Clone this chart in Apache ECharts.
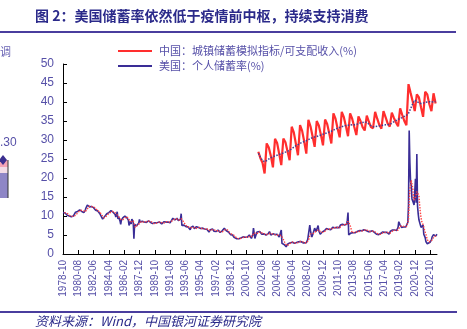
<!DOCTYPE html>
<html><head><meta charset="utf-8">
<script src="https://cdn.jsdelivr.net/npm/echarts@6/dist/echarts.min.js"></script>
<style>html,body{margin:0;padding:0;background:#fff}#c{width:467px;height:329px}</style>
</head><body><div id="c"></div>
<script>
// Monthly categories 1978-10 .. 2023-08
const categories = [];
for (let y = 1978; y <= 2023; y++) {
  for (let m = 1; m <= 12; m++) {
    if (y === 1978 && m < 10) continue;
    if (y === 2023 && m > 8) break;
    categories.push(y + '-' + String(m).padStart(2, '0'));
  }
}

// US personal saving rate (%), monthly, from 1978-10
const us1978 = [10.9, 11.0, 11.2];
const usYears = [
  [10.8,10.9,10.7,10.2,10.0,10.2,10.0,9.7,9.6,9.8,9.9,10.1],   // 1979
  [10.0,10.2,10.4,11.0,11.1,11.0,11.2,11.4,11.3,11.6,11.5,11.7], // 1980
  [11.2,11.3,11.0,10.9,11.1,11.5,12.1,12.4,12.9,12.8,12.6,12.4], // 1981
  [12.3,12.4,12.5,12.3,12.7,12.2,12.0,11.9,11.5,11.3,11.2,11.3], // 1982
  [10.9,10.8,10.6,10.4,9.9,9.5,9.2,9.4,9.6,9.9,10.1,10.2],       // 1983
  [10.6,11.0,11.1,10.9,10.8,11.0,11.4,11.2,11.3,11.0,10.7,10.9], // 1984
  [10.4,9.7,9.6,11.1,9.2,9.8,9.5,8.7,7.8,8.9,9.3,9.5],           // 1985
  [9.4,9.6,10.0,10.1,9.6,9.5,9.3,8.9,7.5,8.5,8.8,7.9],           // 1986
  [9.2,9.0,8.5,4.0,7.8,7.9,7.6,7.4,7.3,7.9,8.2,9.1],             // 1987
  [8.4,8.3,8.5,8.6,8.2,8.1,8.4,8.5,8.8,8.3,8.6,8.5],             // 1988
  [8.7,8.8,8.9,8.3,8.0,8.2,8.0,7.6,7.9,8.2,8.3,8.1],             // 1989
  [8.1,8.3,8.4,8.7,8.4,8.5,8.2,7.9,8.0,7.8,8.5,8.5],             // 1990
  [8.6,8.4,8.6,8.5,8.4,8.2,8.3,8.2,8.5,8.8,8.8,9.4],             // 1991
  [9.2,9.3,9.0,9.2,9.1,9.4,9.0,8.8,8.6,8.9,9.2,10.6],            // 1992
  [7.5,7.8,7.9,7.6,7.8,7.4,7.2,7.0,6.9,7.1,7.0,7.3],             // 1993
  [6.4,7.0,6.7,6.9,7.3,6.8,6.7,6.5,6.6,7.2,7.0,7.2],             // 1994
  [7.0,6.9,6.8,6.7,6.6,6.5,6.8,6.4,6.5,6.6,6.8,6.7],             // 1995
  [6.5,6.3,6.1,5.8,6.2,6.4,6.3,6.5,6.6,6.1,6.0,6.2],             // 1996
  [6.1,5.9,6.0,6.2,6.3,6.0,5.8,5.7,5.8,5.9,6.1,6.0],             // 1997
  [6.6,6.8,6.7,6.4,6.1,6.0,5.9,5.8,5.4,5.3,5.1,5.2],             // 1998
  [5.3,5.0,4.8,4.4,4.3,4.2,4.2,4.0,3.8,3.9,4.0,4.2],             // 1999
  [4.4,4.2,4.2,4.3,4.5,4.4,4.5,4.4,4.3,4.2,4.4,4.6],             // 2000
  [4.9,5.0,5.0,4.5,4.1,4.2,5.1,6.8,7.0,4.1,4.3,4.6],             // 2001
  [5.8,5.9,5.8,5.8,5.9,5.9,5.5,5.2,5.3,5.2,5.3,5.2],             // 2002
  [5.1,5.0,5.2,5.4,5.3,5.2,5.9,5.6,5.0,5.0,5.2,5.3],             // 2003
  [5.2,5.0,5.1,5.0,4.9,5.2,5.1,4.8,4.5,4.3,4.4,6.3],             // 2004
  [2.8,2.9,2.8,2.5,2.6,2.3,1.9,1.6,2.6,2.7,2.8,2.9],             // 2005
  [3.2,3.3,3.3,3.1,3.0,3.2,2.8,2.6,2.7,3.0,3.1,3.0],             // 2006
  [3.2,3.4,3.5,3.3,3.1,3.0,3.0,2.9,3.1,2.8,2.8,3.0],             // 2007
  [3.3,3.8,4.3,4.0,7.6,6.2,5.1,4.5,4.8,5.5,6.2,6.8],             // 2008
  [6.4,5.9,5.6,6.4,7.5,6.1,5.8,5.2,5.5,5.6,5.8,5.9],             // 2009
  [6.0,6.1,6.1,6.5,6.7,6.8,6.6,6.5,6.7,6.5,6.4,6.5],             // 2010
  [6.9,7.0,6.8,6.8,6.9,7.1,7.2,7.0,6.7,6.8,6.9,7.1],             // 2011
  [7.6,7.5,7.7,7.8,7.9,8.0,7.6,7.5,7.4,7.8,8.9,10.9],            // 2012
  [5.0,5.2,5.3,5.5,5.6,5.8,5.6,5.7,5.8,5.6,5.7,5.9],             // 2013
  [5.9,6.0,6.1,6.0,6.2,6.1,6.0,6.1,6.2,6.3,6.4,6.5],             // 2014
  [6.3,6.2,6.1,6.0,5.9,6.0,6.0,5.9,5.9,6.0,6.1,6.0],             // 2015
  [5.9,5.7,5.6,5.5,5.2,5.1,5.0,5.1,5.2,5.3,5.4,5.6],             // 2016
  [5.7,5.8,5.9,5.8,5.7,5.6,5.9,5.7,5.5,5.3,5.2,5.5],             // 2017
  [6.0,6.2,6.4,6.3,6.5,6.4,6.3,6.1,6.0,6.2,6.5,7.0],             // 2018
  [8.5,8.0,7.6,7.1,7.0,7.2,7.3,7.1,7.3,7.2,7.1,7.2],             // 2019
  [7.6,8.3,12.9,32.5,24.0,19.0,18.0,14.5,14.0,13.5,12.9,13.2],   // 2020
  [19.8,13.5,26.3,12.6,10.5,9.0,9.5,8.8,7.0,6.6,6.9,7.6],        // 2021
  [5.2,4.8,4.3,3.3,3.0,2.7,2.6,3.0,3.0,3.1,3.3,3.7]              // 2022
];
const us2023 = [4.5,4.8,5.1,5.2,4.9,4.7,5.0,5.2];
const usSaving = us1978.concat(...usYears, us2023);

// US smoothed (red dotted): quarter-end values 1978-12 .. 2019-12
const usTrendQuarterly = [10.9,
  10.8,10.4,9.9,9.9,  10.1,10.6,11.2,11.5,  11.4,11.1,11.9,12.6,  12.5,12.4,12.0,11.4,
  11.0,10.2,9.5,9.9,  10.5,10.9,11.2,11.0,  10.5,9.8,9.1,9.0,     9.5,9.8,9.0,8.5,
  8.7,7.0,7.6,8.0,    8.6,8.4,8.5,8.6,      8.6,8.4,8.0,8.1,      8.3,8.5,8.1,8.2,
  8.5,8.4,8.4,8.9,    9.2,9.2,8.9,9.3,      8.6,7.7,7.1,7.1,      6.9,7.0,6.7,6.9,
  7.0,6.7,6.6,6.6,    6.5,6.1,6.4,6.3,      6.1,6.1,5.8,5.9,      6.4,6.4,5.8,5.3,
  5.1,4.5,4.1,4.0,    4.2,4.4,4.4,4.4,      4.7,4.6,5.6,5.3,      5.5,5.9,5.4,5.3,
  5.1,5.3,5.5,5.2,    5.1,5.0,4.9,4.9,      3.8,2.6,2.2,2.7,      3.2,3.1,2.8,3.0,
  3.3,3.3,3.0,2.9,    3.6,5.3,5.3,5.6,      6.2,6.3,5.7,5.7,      6.0,6.5,6.6,6.5,
  6.9,6.9,7.0,6.9,    7.5,7.8,7.6,8.6,      7.6,5.6,5.7,5.8,      5.9,6.0,6.1,6.3,
  6.3,6.0,5.9,6.0,    5.8,5.4,5.1,5.3,      5.7,5.7,5.7,5.4,      5.9,6.3,6.2,6.3,
  7.3,7.4,7.2,7.2];
// US smoothed, monthly 2020-01 .. 2023-08
const usTrendMonthly = [
  7.4,7.6,8.9,13.6,16.8,18.3,19.4,19.6,17.4,15.4,14.2,13.9,
  14.8,14.5,16.4,16.4,15.9,15.3,13.1,11.0,9.6,8.6,8.1,7.7,
  7.1,6.4,5.9,5.2,4.5,3.8,3.4,3.2,3.2,3.2,3.3,3.4,
  3.7,4.0,4.4,4.6,4.8,4.8,4.8,4.9];

// China urban saving indicator / disposable income (%), quarterly 2002Q1 .. 2023Q2
const chinaSaving = [
  26.9,25.2,24.0,21.2,  29.1,28.0,25.8,22.8,  30.3,29.2,26.4,23.4,  30.4,29.4,27.0,24.7,
  33.5,32.0,29.0,26.0,  33.9,32.4,29.6,26.4,  35.3,33.6,31.0,28.2,  35.0,33.8,31.4,28.6,
  35.4,34.2,31.8,29.1,  37.0,35.6,33.0,30.7,  37.4,36.0,33.6,31.0,  37.0,35.6,33.4,31.3,
  36.2,35.0,33.4,32.5,  36.4,34.8,33.4,33.1,  37.4,35.6,34.0,33.0,  37.6,36.0,34.4,33.5,
  37.2,35.8,34.6,33.6,  38.3,36.6,35.0,33.9,  44.7,42.4,40.2,37.6,  42.0,41.2,38.6,36.1,
  42.7,42.0,39.4,37.6,  42.3,39.6];
// China trend (dotted), quarterly 2002Q1 .. 2023Q2
const chinaTrend = [
  26.5,25.5,24.6,24.3,  24.6,25.0,25.3,25.6,  25.8,26.0,26.2,26.4,  26.6,26.8,27.0,27.3,
  27.7,28.1,28.5,28.8,  29.1,29.4,29.6,29.8,  30.1,30.4,30.6,30.8,  30.9,31.1,31.3,31.5,
  31.7,31.9,32.1,32.3,  32.6,32.9,33.1,33.3,  33.5,33.7,33.8,33.9,  33.9,34.0,34.0,34.1,
  34.3,34.5,34.6,34.8,  34.6,34.2,33.8,33.5,  33.5,33.6,33.7,33.8,  33.9,34.0,34.0,34.1,
  34.4,34.8,35.1,35.4,  35.7,35.9,36.2,36.5,  37.0,38.2,39.5,40.5,  40.1,39.8,39.6,39.7,
  39.9,40.0,40.1,40.0,  40.1,40.1];

const yTicks = [0,5,10,15,20,25,30,35,40,45,50];

// helpers mapping dates to category positions
function quarterPairs(vals, startCat, step) {
  const s = categories.indexOf(startCat);
  return vals.map((v, i) => [s + i * step, v]);
}
const chinaData = quarterPairs(chinaSaving, '2002-03', 3);
const chinaTrendData = quarterPairs(chinaTrend, '2002-03', 3);
const usTrendData = quarterPairs(usTrendQuarterly, '1978-12', 3)
  .concat(quarterPairs(usTrendMonthly, '2020-01', 1));

const TXT = '#5650a8';
const chart = echarts.init(document.getElementById('c'), null, {renderer: 'canvas'});
chart.setOption({
  animation: false,
  backgroundColor: '#fff',
  grid: {left: 63, right: 30, top: 64, bottom: 75},
  legend: {
    data: ['中国：城镇储蓄模拟指标/可支配收入(%)', '美国：个人储蓄率(%)'],
    orient: 'vertical', left: 113, top: 40,
    icon: 'rect', itemWidth: 34, itemHeight: 2, itemGap: 3,
    textStyle: {color: TXT, fontSize: 11, fontFamily: 'Noto Sans CJK SC', lineHeight: 12, padding: [0,0,0,2]}
  },
  xAxis: {
    type: 'category', data: categories, boundaryGap: false,
    axisLine: {lineStyle: {color: '#000', width: 1}},
    axisTick: {inside: true, length: 4, interval: 21, lineStyle: {color: '#000'}},
    axisLabel: {interval: 21, rotate: 90, fontSize: 10, color: TXT, margin: 6, fontFamily: 'Arial'},
    splitLine: {show: false}
  },
  yAxis: {
    type: 'value', min: 0, max: 50, interval: 5,
    axisLine: {show: true, lineStyle: {color: '#000', width: 1}},
    axisTick: {show: true, inside: true, length: 4, lineStyle: {color: '#000'}},
    axisLabel: {fontSize: 12, color: TXT, margin: 9, fontFamily: 'Arial',
      formatter: v => yTicks.includes(v) ? String(v) : ''},
    splitLine: {show: false}
  },
  series: [
    {name: '美国：个人储蓄率(%)', type: 'line', data: usSaving, symbol: 'none', color: '#3a2d96',
     lineStyle: {color: '#3a2d96', width: 1.6}, z: 2},
    {name: 'usTrend', type: 'line', data: usTrendData, symbol: 'none', color: '#ff4040',
     lineStyle: {color: '#ff4040', width: 1.4, type: 'dotted'}, z: 3},
    {name: '中国：城镇储蓄模拟指标/可支配收入(%)', type: 'line', data: chinaData, symbol: 'none', color: '#ff2e2e',
     lineStyle: {color: '#ff2e2e', width: 2.2}, z: 4},
    {name: 'cnTrend', type: 'line', data: chinaTrendData, symbol: 'none', color: '#3f3f96',
     lineStyle: {color: '#3f3f96', width: 1.5, type: 'dotted'}, z: 5}
  ],
  graphic: [
    {type: 'text', left: 35, top: 9, style: {text: '图 2：美国储蓄率依然低于疫情前中枢，持续支持消费',
      fill: '#2b2a8a', font: 'bold 14px "Noto Sans CJK SC"'}},
    {type: 'rect', shape: {x: 0, y: 31, width: 456, height: 2}, style: {fill: '#4a3d9e'}},
    {type: 'rect', shape: {x: 0, y: 311, width: 457, height: 2}, style: {fill: '#4a3d9e'}},
    {type: 'text', left: 35, top: 315, style: {text: '资料来源：Wind，中国银河证券研究院',
      fill: '#2b2a8a', font: 'italic 13px "Noto Sans CJK SC"'}},
    // fragment of neighbouring chart at the left edge
    {type: 'text', left: 0, top: 46, style: {text: '调', fill: '#6a64b4', font: '11px "Noto Sans CJK SC"'}},
    {type: 'text', left: 0, top: 137, style: {text: '.30', fill: '#5650a8', font: '12px Arial'}},
    {type: 'rect', shape: {x: 0, y: 160, width: 8, height: 7}, style: {fill: '#f4a3b5'}},
    {type: 'rect', shape: {x: 0, y: 167, width: 8, height: 6}, style: {fill: '#f2dbe6'}},
    {type: 'rect', shape: {x: 0, y: 173, width: 8, height: 25}, style: {fill: '#8e86c6'}},
    {type: 'line', shape: {x1: 8, y1: 160, x2: 8, y2: 198}, style: {stroke: '#333', lineWidth: 1}},
    {type: 'polygon', shape: {points: [[-1,160],[3,155],[7,160],[3,165]]}, style: {fill: '#3b2f90'}}
  ]
});
</script></body></html>
